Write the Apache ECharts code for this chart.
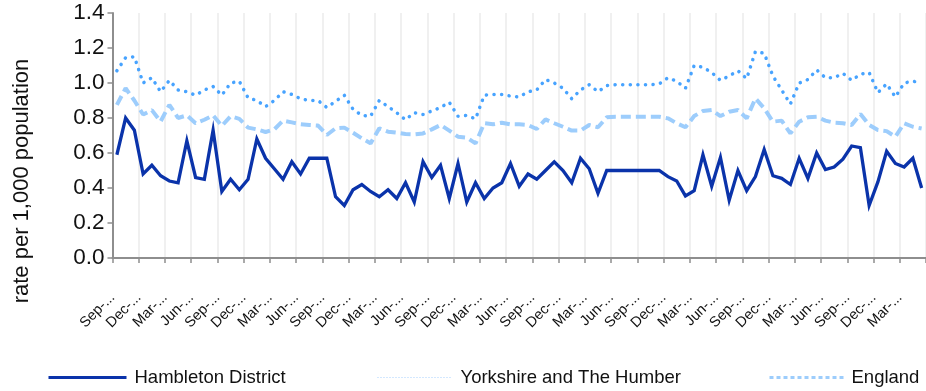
<!DOCTYPE html>
<html>
<head>
<meta charset="utf-8">
<script src="https://cdn.jsdelivr.net/npm/echarts@6/dist/echarts.min.js"></script>
<style>
  html, body { margin: 0; padding: 0; background: #ffffff; }
  #chart { width: 926px; height: 391px; }
</style>
</head>
<body>
<div id="chart"></div>
<script>
// Monthly periods, September 2015 onwards
const monthNames = ['Jan','Feb','Mar','Apr','May','Jun','Jul','Aug','Sep','Oct','Nov','Dec'];
const categories = [];
for (let k = 0; k < 93; k++) {
  const m = (8 + k) % 12;
  const y = 2015 + Math.floor((8 + k) / 12);
  categories.push(monthNames[m] + '-' + y);
}

const yTicks = [0.0, 0.2, 0.4, 0.6, 0.8, 1.0, 1.2, 1.4];

const hambleton = [
  0.59, 0.80, 0.73, 0.48, 0.53, 0.47, 0.44, 0.43, 0.67, 0.46,
  0.45, 0.73, 0.38, 0.45, 0.39, 0.45, 0.68, 0.57, 0.51, 0.45,
  0.55, 0.48, 0.57, 0.57, 0.57, 0.35, 0.30, 0.39, 0.42, 0.38,
  0.35, 0.39, 0.34, 0.43, 0.32, 0.55, 0.46, 0.53, 0.34, 0.54,
  0.32, 0.43, 0.34, 0.40, 0.43, 0.54, 0.41, 0.48, 0.45, 0.50,
  0.55, 0.50, 0.43, 0.57, 0.51, 0.37, 0.50, 0.50, 0.50, 0.50,
  0.50, 0.50, 0.50, 0.465, 0.44, 0.355, 0.385, 0.59, 0.41, 0.575,
  0.33, 0.50, 0.385, 0.465, 0.62, 0.47, 0.455, 0.42, 0.57, 0.455,
  0.60, 0.505, 0.52, 0.565, 0.64, 0.63, 0.30, 0.435, 0.61, 0.54,
  0.52, 0.57, 0.40
];

const yorkshire = [
  1.07, 1.145, 1.15, 1.00, 1.03, 0.95, 1.015, 0.96, 0.95, 0.93,
  0.96, 0.98, 0.93, 1.00, 1.01, 0.915, 0.90, 0.865, 0.90, 0.95,
  0.935, 0.91, 0.90, 0.90, 0.86, 0.895, 0.93, 0.85, 0.815, 0.81,
  0.90, 0.865, 0.83, 0.79, 0.83, 0.82, 0.84, 0.86, 0.89, 0.81,
  0.815, 0.795, 0.93, 0.935, 0.935, 0.925, 0.92, 0.95, 0.96, 1.02,
  1.00, 0.97, 0.91, 0.96, 0.99, 0.95, 0.985, 0.99, 0.99, 0.99,
  0.99, 0.99, 0.995, 1.03, 1.01, 0.97, 1.10, 1.09, 1.06, 1.015,
  1.04, 1.07, 1.025, 1.18, 1.17, 1.04, 0.96, 0.88, 1.00, 1.02,
  1.075, 1.03, 1.03, 1.055, 1.015, 1.05, 1.06, 0.945, 0.995, 0.92,
  1.00, 1.01, 1.00
];

const england = [
  0.875, 0.97, 0.90, 0.82, 0.845, 0.78, 0.875, 0.80, 0.815, 0.77,
  0.79, 0.815, 0.755, 0.81, 0.795, 0.745, 0.735, 0.72, 0.735, 0.785,
  0.775, 0.765, 0.76, 0.757, 0.703, 0.741, 0.745, 0.716, 0.684, 0.655,
  0.741, 0.722, 0.716, 0.709, 0.707, 0.712, 0.735, 0.76, 0.728, 0.693,
  0.688, 0.655, 0.77, 0.764, 0.773, 0.764, 0.764, 0.76, 0.737, 0.792,
  0.77, 0.75, 0.728, 0.728, 0.76, 0.747, 0.804, 0.807, 0.807, 0.807,
  0.807, 0.807, 0.807, 0.798, 0.77, 0.747, 0.811, 0.84, 0.846, 0.811,
  0.836, 0.846, 0.798, 0.912, 0.855, 0.779, 0.785, 0.712, 0.779, 0.804,
  0.807, 0.785, 0.773, 0.77, 0.76, 0.823, 0.76, 0.731, 0.725, 0.693,
  0.77, 0.75, 0.74
];

const seriesNames = ['Hambleton District', 'Yorkshire and The Humber', 'England'];
const colors = { dark: '#0a33aa', mid: '#47a3ff', light: '#9dcdfc' };
const FONT = 'Liberation Sans, Arial, sans-serif';

const chart = echarts.init(document.getElementById('chart'), null, { renderer: 'canvas' });

// One legend per series so each key sits at its own spot along the bottom
function legendAt(left, name, itemWidth, lineStyle) {
  return {
    left: left,
    top: 368,
    orient: 'horizontal',
    itemWidth: itemWidth,
    itemHeight: 14,
    padding: 0,
    selectedMode: false,
    textStyle: { fontFamily: FONT, fontSize: 18.5, color: '#111', padding: [0, 0, 0, 3] },
    data: [{ name: name, lineStyle: lineStyle, itemStyle: { opacity: 0 } }]
  };
}

chart.setOption({
  animation: false,
  backgroundColor: '#ffffff',
  grid: { left: 112.5, top: 13, bottom: 133, right: -6.4, containLabel: false },
  legend: [
    legendAt(47, seriesNames[0], 78, { color: colors.dark, width: 3, type: 'solid' }),
    legendAt(377, seriesNames[1], 75, { color: '#cfe6ff', width: 1, type: [1, 2] }),
    legendAt(768, seriesNames[2], 74, { color: colors.light, width: 3, type: [4, 3] })
  ],
  graphic: [{
    type: 'text',
    x: 22, y: 181,
    rotation: Math.PI / 2,
    style: {
      text: 'rate per 1,000 population',
      fontFamily: FONT, fontSize: 22, fill: '#111',
      align: 'center', verticalAlign: 'middle'
    }
  }],
  xAxis: {
    type: 'category',
    data: categories,
    boundaryGap: true,
    axisLine: { lineStyle: { color: '#8e8e8e', width: 2 } },
    axisTick: { show: true, interval: 2, length: 5, lineStyle: { color: '#8e8e8e', width: 1.5 } },
    splitLine: { show: true, interval: 2, lineStyle: { color: '#ebebeb', width: 1.5 } },
    axisLabel: {
      interval: 2,
      rotate: 45,
      margin: 33,
      padding: [0, 6, 0, 0],
      fontFamily: FONT, fontSize: 14.5, color: '#111',
      formatter: function (v) { return v.slice(0, 4) + '...'; }
    }
  },
  yAxis: {
    type: 'value',
    min: yTicks[0], max: yTicks[yTicks.length - 1], interval: 0.2,
    axisLine: { show: true, lineStyle: { color: '#8e8e8e', width: 2 } },
    axisTick: { show: true, length: 5, lineStyle: { color: '#8e8e8e', width: 1.5 } },
    splitLine: { show: false },
    axisLabel: {
      margin: 8,
      fontFamily: FONT, fontSize: 22.5, color: '#111',
      formatter: function (v) { return v.toFixed(1); }
    }
  },
  series: [
    {
      name: seriesNames[2], type: 'line', data: england, symbol: 'none', z: 2,
      lineStyle: { color: colors.light, width: 4, type: [10, 5] }, itemStyle: { color: colors.light }
    },
    {
      name: seriesNames[1], type: 'line', data: yorkshire, symbol: 'none', z: 3,
      lineStyle: { color: colors.mid, width: 3.5, type: [0.1, 7.5], cap: 'round' }, itemStyle: { color: colors.mid }
    },
    {
      name: seriesNames[0], type: 'line', data: hambleton, symbol: 'none', z: 4,
      lineStyle: { color: colors.dark, width: 3.3, join: 'miter' }, itemStyle: { color: colors.dark }
    }
  ]
});
</script>
</body>
</html>
